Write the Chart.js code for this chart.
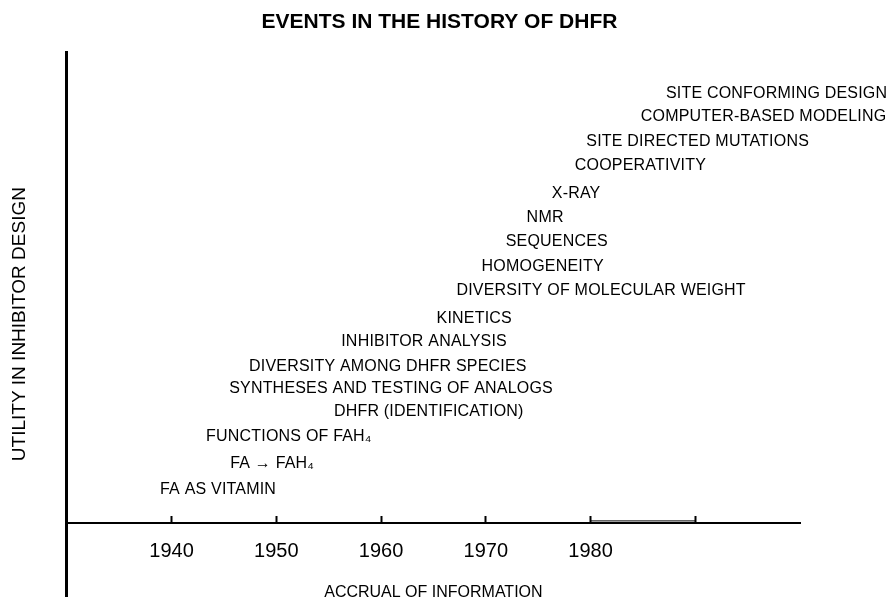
<!DOCTYPE html>
<html>
<head>
<meta charset="utf-8">
<script src="https://cdn.jsdelivr.net/npm/chart.js@4.4.0/dist/chart.umd.min.js"></script>
<style>
  body { margin: 0; background: #fff; }
  canvas { display: block; }
</style>
</head>
<body>
<canvas id="myChart" width="891" height="603"></canvas>
<script>
// events, the year each one shows up, and its height on the utility axis
const eventNames = [
    'FA AS VITAMIN',
    'FA \u2192 FAH\u2084',
    'FUNCTIONS OF FAH\u2084',
    'DHFR (IDENTIFICATION)',
    'SYNTHESES AND TESTING OF ANALOGS',
    'DIVERSITY AMONG DHFR SPECIES',
    'INHIBITOR ANALYSIS',
    'KINETICS',
    'DIVERSITY OF MOLECULAR WEIGHT',
    'HOMOGENEITY',
    'SEQUENCES',
    'NMR',
    'X-RAY',
    'COOPERATIVITY',
    'SITE DIRECTED MUTATIONS',
    'COMPUTER-BASED MODELING',
    'SITE CONFORMING DESIGN'
];
const eventYears = [1938.9, 1945.6, 1943.3, 1955.5, 1945.5, 1947.4, 1956.2, 1965.3, 1967.2,
                    1969.6, 1971.9, 1973.9, 1976.3, 1978.5, 1979.6, 1984.8, 1987.2];
const eventUtility = [7.0, 12.7, 18.3, 23.6, 28.5, 33.3, 38.6, 43.5, 49.3,
                      54.4, 59.7, 64.8, 69.9, 76.0, 81.1, 86.4, 91.3];

const tickYears = [1940, 1950, 1960, 1970, 1980, 1990];
const tickLabels = ['1940', '1950', '1960', '1970', '1980', ''];

// bracket between the last two ticks
const bracketYears = [1980, 1990];
const bracketLevel = [0.45, 0.45];

const eventLabels = {
    id: 'eventLabels',
    afterDatasetsDraw(chart) {
        const ctx = chart.ctx;
        const meta = chart.getDatasetMeta(0);
        ctx.save();
        ctx.font = '16px "Liberation Sans", Arial, sans-serif';
        ctx.letterSpacing = '0.2px';
        ctx.fillStyle = '#000';
        ctx.textAlign = 'left';
        ctx.textBaseline = 'middle';
        meta.data.forEach((pt, i) => {
            ctx.fillText(eventNames[i], pt.x, pt.y);
        });
        ctx.restore();
    }
};

const ctx = document.getElementById('myChart').getContext('2d');

const myChart = new Chart(ctx, {
    type: 'scatter',
    data: {
        datasets: [{
            data: eventYears.map((y, i) => ({ x: y, y: eventUtility[i] })),
            pointRadius: 0,
            pointHoverRadius: 0
        }, {
            type: 'line',
            data: bracketYears.map((y, i) => ({ x: y, y: bracketLevel[i] })),
            borderColor: '#000',
            borderWidth: 1,
            pointRadius: 0
        }]
    },
    options: {
        responsive: false,
        animation: false,
        devicePixelRatio: 1,
        layout: {
            padding: { left: 4, right: 16, top: 0, bottom: 7 }
        },
        scales: {
            x: {
                type: 'linear',
                min: 1930,
                max: 2000,
                position: { y: 0 },
                afterBuildTicks: function(scale) {
                    scale.ticks = tickYears.map(v => ({ value: v }));
                },
                grid: {
                    drawOnChartArea: false,
                    tickLength: -8,
                    tickWidth: 2,
                    tickColor: '#000'
                },
                border: {
                    display: true,
                    color: '#000',
                    width: 2
                },
                ticks: {
                    color: '#000',
                    padding: 24,
                    font: { family: '"Liberation Sans", Arial, sans-serif', size: 20 },
                    callback: function(value) {
                        const i = tickYears.indexOf(value);
                        return i >= 0 ? tickLabels[i] : '';
                    }
                },
                title: {
                    display: true,
                    text: 'ACCRUAL OF INFORMATION',
                    color: '#000',
                    padding: { top: -4, bottom: 0 },
                    font: { family: '"Liberation Sans", Arial, sans-serif', size: 16 }
                }
            },
            y: {
                min: -15.5,
                max: 100,
                grid: { display: false, drawTicks: false },
                ticks: { display: false },
                border: {
                    display: true,
                    color: '#000',
                    width: 3
                },
                title: {
                    display: true,
                    text: 'UTILITY IN INHIBITOR DESIGN',
                    color: '#000',
                    padding: { top: 4, bottom: 36 },
                    font: { family: '"Liberation Sans", Arial, sans-serif', size: 19 }
                }
            },
            spare: {
                type: 'linear',
                position: 'right',
                grid: { display: false, drawTicks: false },
                ticks: { display: false },
                border: { display: false },
                afterFit: function(scale) {
                    scale.width = 75;
                }
            }
        },
        plugins: {
            legend: { display: false },
            tooltip: { enabled: false },
            title: {
                display: true,
                text: 'EVENTS IN THE HISTORY OF DHFR',
                color: '#000',
                padding: { top: 10, bottom: 17 },
                font: { family: '"Liberation Sans", Arial, sans-serif', size: 21, weight: 'bold' }
            }
        }
    },
    plugins: [eventLabels]
});
</script>
</body>
</html>
